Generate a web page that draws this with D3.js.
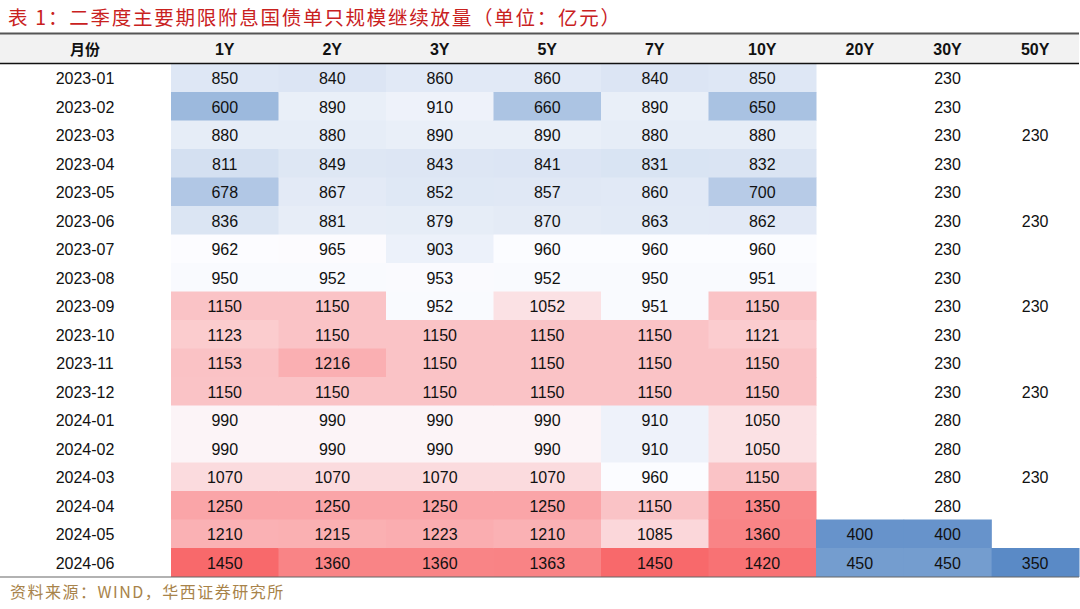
<!DOCTYPE html>
<html><head><meta charset="utf-8">
<script src="https://cdn.jsdelivr.net/npm/d3@7"></script>
<style>
html,body{margin:0;padding:0;background:#fff;}
svg{display:block;}
</style></head>
<body>
<svg id="chart" width="1080" height="609"></svg>
<script>
// ---- data ----
const months = ["2023-01","2023-02","2023-03","2023-04","2023-05","2023-06","2023-07","2023-08","2023-09","2023-10","2023-11","2023-12","2024-01","2024-02","2024-03","2024-04","2024-05","2024-06"];
const mainTenors = ["1Y","2Y","3Y","5Y","7Y","10Y"];
const longTenors = ["20Y","30Y","50Y"];
const y1  = [850,600,880,811,678,836,962,950,1150,1123,1153,1150,990,990,1070,1250,1210,1450];
const y2  = [840,890,880,849,867,881,965,952,1150,1150,1216,1150,990,990,1070,1250,1215,1360];
const y3  = [860,910,890,843,852,879,903,953,952,1150,1150,1150,990,990,1070,1250,1223,1360];
const y5  = [860,660,890,841,857,870,960,952,1052,1150,1150,1150,990,990,1070,1250,1210,1363];
const y7  = [840,890,880,831,860,863,960,950,951,1150,1150,1150,910,910,960,1150,1085,1450];
const y10 = [850,650,880,832,700,862,960,951,1150,1121,1150,1150,1050,1050,1150,1350,1360,1420];
const y20 = [null,null,null,null,null,null,null,null,null,null,null,null,null,null,null,null,400,450];
const y30 = [230,230,230,230,230,230,230,230,230,230,230,230,280,280,280,280,400,450];
const y50 = [null,null,230,null,null,230,null,null,230,null,null,230,null,null,230,null,null,350];
const seriesByTenor = {"1Y":y1,"2Y":y2,"3Y":y3,"5Y":y5,"7Y":y7,"10Y":y10,"20Y":y20,"30Y":y30,"50Y":y50};
const heatLongMonths = ["2024-05","2024-06"]; // long tenors shaded only in these rows
const titleText = "表 1：二季度主要期限附息国债单只规模继续放量（单位：亿元）";
const sourceText = "资料来源：WIND，华西证券研究所";
const monthHeader = "月份";

// ---- build cells ----
const cells = [];
mainTenors.concat(longTenors).forEach(t => {
  seriesByTenor[t].forEach((v, i) => {
    if (v == null) return;
    const heat = mainTenors.includes(t) || heatLongMonths.includes(months[i]);
    cells.push({tenor: t, month: months[i], value: v, heat, long: longTenors.includes(t)});
  });
});
const heatVals = cells.filter(c => c.heat).map(c => c.value).sort(d3.ascending);
const color = d3.scaleLinear()
  .domain([d3.min(heatVals), d3.quantile(heatVals, 0.5), d3.max(heatVals)])
  .range(["#5A8AC6", "#FCFCFF", "#F8696B"])
  .interpolate(d3.interpolateRgb);

// ---- layout ----
const svg = d3.select("#chart");
const headerTop = 34, headerBottom = 63.5, tableBottom = 576.5;
const xMain = d3.scaleBand().domain(mainTenors).range([171, 816]).padding(0);
const xLong = d3.scaleBand().domain(longTenors).range([816, 1079]).padding(0);
const xOf = t => mainTenors.includes(t) ? xMain(t) : xLong(t);
const wOf = t => mainTenors.includes(t) ? xMain.bandwidth() : xLong.bandwidth();
const y = d3.scaleBand().domain(months).range([headerBottom, tableBottom]).padding(0);
const monthCenter = 85;
const numFont = "'Liberation Sans', Arial, sans-serif";
const textDy = 6.3;

// title
svg.append("text")
  .attr("x", 8).attr("y", 25)
  .attr("fill", "#c9211e")
  .attr("font-family", "'Noto Sans CJK SC', sans-serif")
  .attr("font-size", 19.5)
  .attr("letter-spacing", 1.75)
  .text(titleText);

// header band
svg.append("rect").attr("x", 0).attr("y", headerTop).attr("width", 1079).attr("height", headerBottom - headerTop)
  .attr("fill", "#f2f2f2");

// heat cells
svg.append("g").selectAll("rect").data(cells.filter(c => c.heat)).join("rect")
  .attr("x", d => xOf(d.tenor))
  .attr("y", d => y(d.month))
  .attr("width", d => wOf(d.tenor) + 0.5)
  .attr("height", y.bandwidth() + 0.5)
  .attr("fill", d => color(d.value));

// values
svg.append("g").selectAll("text").data(cells).join("text")
  .attr("x", d => xOf(d.tenor) + wOf(d.tenor) / 2)
  .attr("y", d => y(d.month) + y.bandwidth() / 2 + textDy)
  .attr("text-anchor", "middle")
  .attr("font-family", numFont)
  .attr("font-size", 16)
  .attr("fill", "#111")
  .text(d => d.value);

// month labels
svg.append("g").selectAll("text").data(months).join("text")
  .attr("x", monthCenter)
  .attr("y", d => y(d) + y.bandwidth() / 2 + textDy)
  .attr("text-anchor", "middle")
  .attr("font-family", numFont)
  .attr("font-size", 16)
  .attr("fill", "#111")
  .text(d => d);

// header labels
const hy = (headerTop + headerBottom) / 2 + 5.8;
svg.append("text").attr("x", monthCenter).attr("y", hy).attr("text-anchor", "middle")
  .attr("font-family", "'Noto Sans CJK SC', sans-serif").attr("font-weight", "bold")
  .attr("font-size", 15).attr("fill", "#111").text(monthHeader);
svg.append("g").selectAll("text").data(mainTenors.concat(longTenors)).join("text")
  .attr("x", d => xOf(d) + wOf(d) / 2)
  .attr("y", hy)
  .attr("text-anchor", "middle")
  .attr("font-family", numFont)
  .attr("font-weight", "bold")
  .attr("font-size", 16)
  .attr("fill", "#111")
  .text(d => d);

// rules
svg.append("line").attr("x1", 0).attr("x2", 1079).attr("y1", headerTop - 0.5).attr("y2", headerTop - 0.5)
  .attr("stroke", "#555").attr("stroke-width", 2);
svg.append("line").attr("x1", 0).attr("x2", 1079).attr("y1", headerBottom).attr("y2", headerBottom)
  .attr("stroke", "#111").attr("stroke-width", 1.5);
svg.append("line").attr("x1", 0).attr("x2", 1079).attr("y1", tableBottom + 0.5).attr("y2", tableBottom + 0.5)
  .attr("stroke", "#666").attr("stroke-width", 1.2);

// source
svg.append("text")
  .attr("x", 10).attr("y", 598)
  .attr("fill", "#a8834a")
  .attr("font-family", "'Noto Sans CJK SC', sans-serif")
  .attr("font-size", 16)
  .attr("letter-spacing", 1.5)
  .text(sourceText);
</script>
</body></html>
